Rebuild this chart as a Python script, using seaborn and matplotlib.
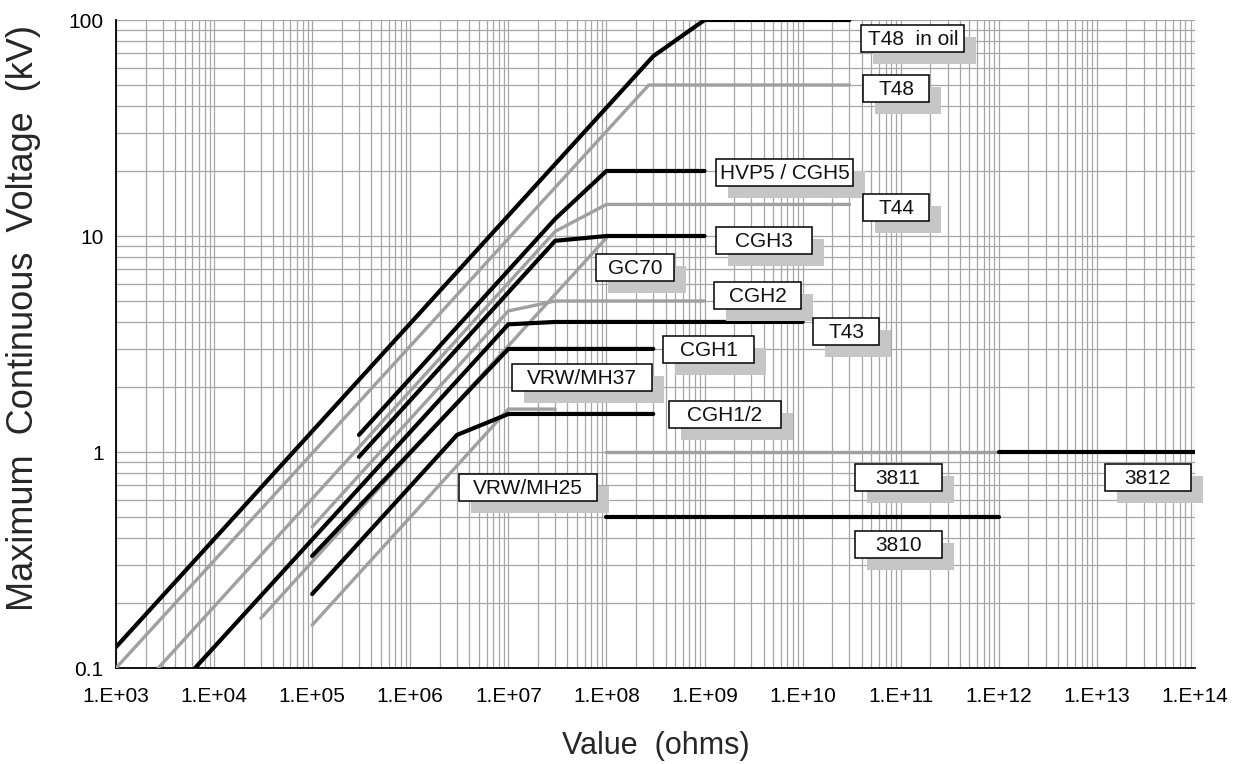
import numpy as np
import pandas as pd
import matplotlib
matplotlib.use("Agg")
import matplotlib.pyplot as plt
from matplotlib.patches import Rectangle
from matplotlib.ticker import LogLocator, FixedLocator, FuncFormatter, NullFormatter
import seaborn as sns

# resistance (ohms) vs maximum continuous voltage (kV) for each resistor family
t48oil_r = [1e3, 3e8, 1e9, 3e10]
t48oil_v = [0.125, 68, 100, 100]
t48_r = [1e3, 2.7e8, 3e10]
t48_v = [0.1, 50, 50]
hvp5_r = [3e5, 3e7, 1e8, 1e9]
hvp5_v = [1.2, 12, 20, 20]
t44_r = [2.7e3, 3e7, 1e8, 3e10]
t44_v = [0.1, 10.5, 14, 14]
cgh3_r = [3e5, 3e7, 1e8, 1e9]
cgh3_v = [0.95, 9.5, 10, 10]
gc70_r = [3e4, 1e8]
gc70_v = [0.17, 9.8]
cgh2_r = [1e5, 1e7, 3e7, 1e9]
cgh2_v = [0.45, 4.5, 5, 5]
t43_r = [6.4e3, 1e7, 3e7, 1e10]
t43_v = [0.1, 3.9, 4, 4]
cgh1_r = [1e5, 1e7, 3e8]
cgh1_v = [0.33, 3, 3]
vrw37_r = [1e5, 1e7, 3e7]
vrw37_v = [0.158, 1.58, 1.58]
cgh12_r = [1e5, 3e6, 1e7, 3e8]
cgh12_v = [0.22, 1.2, 1.5, 1.5]
r3811_r = [1e8, 1e12]
r3811_v = [1, 1]
r3812_r = [1e12, 1e14]
r3812_v = [1, 1]
r3810_r = [1e8, 1e12]
r3810_v = [0.5, 0.5]

gray_series = [(t48_r, t48_v), (t44_r, t44_v), (gc70_r, gc70_v), (cgh2_r, cgh2_v),
               (vrw37_r, vrw37_v), (r3811_r, r3811_v)]
black_series = [(t48oil_r, t48oil_v), (hvp5_r, hvp5_v), (cgh3_r, cgh3_v), (t43_r, t43_v),
                (cgh1_r, cgh1_v), (cgh12_r, cgh12_v), (r3812_r, r3812_v), (r3810_r, r3810_v)]

# callout labels: text, x, y (data coords of box centre), box width in px
label_text = ["T48  in oil", "T48", "HVP5 / CGH5", "T44", "CGH3", "GC70", "CGH2", "T43",
              "CGH1", "VRW/MH37", "CGH1/2", "VRW/MH25", "3811", "3812", "3810"]
label_x = [1.33e11, 8.95e10, 6.6e9, 8.95e10, 4.0e9, 1.95e8, 3.5e9, 2.77e10,
           1.1e9, 5.6e7, 1.6e9, 1.58e7, 9.4e10, 3.3e13, 9.4e10]
label_y = [82.5, 48, 19.6, 13.6, 9.5, 7.14, 5.33, 3.63,
           2.97, 2.22, 1.49, 0.686, 0.759, 0.759, 0.375]
label_w = [103, 66, 137, 66, 96, 78, 87, 66, 91, 140, 112, 138, 87, 86, 87]

x_ticks = [10.0 ** k for k in range(3, 15)]
y_ticks = [0.1, 1, 10, 100]
y_tick_labels = ["0.1", "1", "10", "100"]

sns.set_style("white")
plt.rcParams['font.family'] = ['Liberation Sans', 'DejaVu Sans']

W, H = 1241, 764
L, R, T, B = 116, 1195, 20, 668
fig = plt.figure(figsize=(W / 100, H / 100), dpi=100)
ax = fig.add_axes([L / W, (H - B) / H, (R - L) / W, (B - T) / H])
ax.set_xscale('log')
ax.set_yscale('log')

for r, v in gray_series:
    sns.lineplot(x=r, y=v, ax=ax, color='#a0a0a0', linewidth=2.4, sort=False,
                 estimator=None, solid_capstyle='round', zorder=3)
for r, v in black_series:
    sns.lineplot(x=r, y=v, ax=ax, color='black', linewidth=3.0, sort=False,
                 estimator=None, solid_capstyle='round', zorder=4)

ax.set_xlim(1e3, 1e14)
ax.set_ylim(0.1, 100)

ax.xaxis.set_major_locator(FixedLocator(x_ticks))
ax.xaxis.set_minor_locator(LogLocator(base=10, subs=np.arange(2, 10), numticks=200))
ax.xaxis.set_major_formatter(FuncFormatter(lambda v, p: f"1.E+{int(round(np.log10(v))):02d}"))
ax.xaxis.set_minor_formatter(NullFormatter())
ax.yaxis.set_major_locator(FixedLocator(y_ticks))
ax.yaxis.set_minor_locator(LogLocator(base=10, subs=np.arange(2, 10), numticks=50))
ax.yaxis.set_major_formatter(FuncFormatter(lambda v, p: y_tick_labels[y_ticks.index(v)] if v in y_ticks else ""))
ax.yaxis.set_minor_formatter(NullFormatter())

ax.grid(True, which='both', color='#a6a6a6', linewidth=0.9)
ax.set_axisbelow(True)
ax.tick_params(which='major', direction='out', length=6, width=1.2, color='black',
               labelsize=15, labelcolor='black')
ax.tick_params(axis='x', which='major', pad=8)
ax.tick_params(axis='y', which='major', pad=3)
ax.tick_params(which='minor', length=0)
for s in ['top', 'right']:
    ax.spines[s].set_visible(False)
for s in ['left', 'bottom']:
    ax.spines[s].set_color('black')
    ax.spines[s].set_linewidth(1.3)
ax.set_xlabel("")
ax.set_ylabel("")

# label boxes with a grey drop shadow
aw, ah = R - L, B - T
bh = 27 / ah
dx, dy = 12 / aw, -12 / ah
for txt, x, y, w in zip(label_text, label_x, label_y, label_w):
    fx = (np.log10(x) - 3) / 11
    fy = (np.log10(y) + 1) / 3
    bw = w / aw
    ax.add_patch(Rectangle((fx - bw / 2 + dx, fy - bh / 2 + dy), bw, bh, transform=ax.transAxes,
                           facecolor='#c6c6c6', edgecolor='none', zorder=5, clip_on=False))
    ax.add_patch(Rectangle((fx - bw / 2, fy - bh / 2), bw, bh, transform=ax.transAxes,
                           facecolor='white', edgecolor='black', linewidth=1.1, zorder=7, clip_on=False))
    ax.text(fx, fy - 1 / ah, txt, transform=ax.transAxes, ha='center', va='center',
            fontsize=15, color='#111111', zorder=8, clip_on=False)

fig.text(24 / W, 1 - 318 / H, "Maximum  Continuous  Voltage  (kV)", rotation=90,
         ha='center', va='center', fontsize=26)
fig.text(656 / W, 1 - 746 / H, "Value  (ohms)", ha='center', va='center', fontsize=22)

fig.savefig("out.png", dpi=100)
